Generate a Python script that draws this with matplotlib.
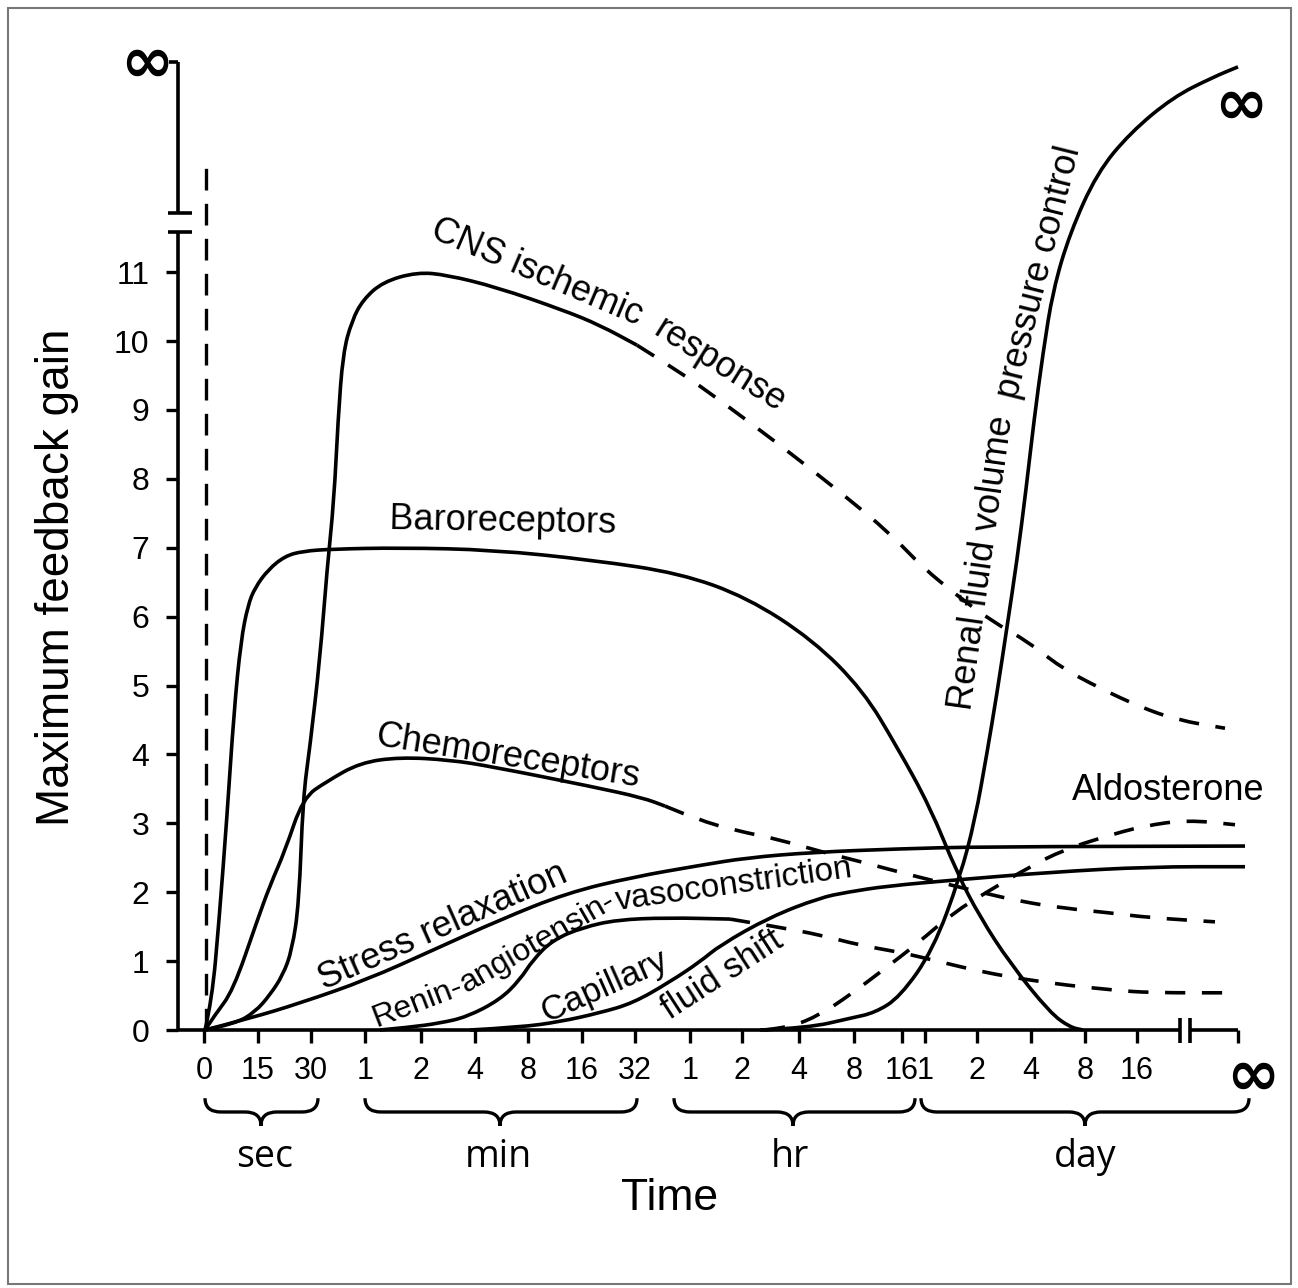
import matplotlib
matplotlib.use("Agg")
import matplotlib.pyplot as plt
from matplotlib.patches import Rectangle, PathPatch
from matplotlib.path import Path

plt.rcParams['font.family'] = ['Liberation Sans', 'DejaVu Sans']

W, H = 1298, 1288

# time axis: position of each tick (one doubling of time ~ 54 units)
tick_pos = [0, 54, 107, 161, 217, 271, 324, 378, 431, 486, 538, 595, 650,
            698, 721, 773, 827, 881, 933, 1034]
tick_lab = ['0', '15', '30', '1', '2', '4', '8', '16', '32', '1', '2', '4',
            '8', '16', '1', '2', '4', '8', '16', '']
gain_ticks = list(range(12))
INF = 14.05          # level drawn for "infinite" gain

# unit groups under the axis: (name, first tick, last tick, brace tip)
groups = [('sec', 1, 114, 57), ('min', 161, 433, 296),
          ('hr', 470, 711, 589), ('day', 717, 1045, 881)]

# curves (x on the time axis, y = maximum feedback gain)
baro_x = [1, 8, 15, 23, 30, 37, 44, 51, 64, 81, 99, 127, 196, 289, 389, 476,
          543, 609, 659, 693, 726, 753, 776, 806, 846, 866, 879]
baro_y = [0, 0.44, 1.58, 3.1, 4.63, 5.66, 6.17, 6.42, 6.68, 6.88, 6.95, 6.98,
          7.0, 6.97, 6.82, 6.63, 6.28, 5.66, 4.93, 4.11, 3.24, 2.28, 1.64,
          0.97, 0.25, 0.04, 0]

cns_x = [1, 31, 51, 66, 79, 88, 95, 99, 106, 116, 123, 130, 134, 139, 148,
         159, 179, 213, 243, 293, 359, 396, 433]
cns_y = [0, 0.09, 0.26, 0.51, 0.80, 1.16, 1.84, 3.37, 4.12, 5.40, 6.68, 7.69,
         8.85, 9.83, 10.30, 10.60, 10.86, 11.0, 10.96, 10.78, 10.45, 10.23,
         9.94]
cns_dx = [433, 476, 516, 576, 636, 686, 719, 753, 786, 826, 856, 896, 936,
          973, 1021]
cns_dy = [9.94, 9.55, 9.14, 8.49, 7.81, 7.21, 6.71, 6.31, 5.95, 5.62, 5.27,
          4.96, 4.69, 4.50, 4.38]

chemo_x = [1, 11, 29, 53, 66, 81, 99, 123, 156, 196, 246, 289, 389, 439, 461]
chemo_y = [0, 0.22, 0.57, 1.58, 2.10, 2.60, 3.37, 3.61, 3.88, 3.96, 3.92,
           3.82, 3.53, 3.37, 3.25]
chemo_dx = [461, 499, 543, 576, 619, 663, 706, 779, 819, 859, 906, 946, 1011]
chemo_dy = [3.25, 3.02, 2.86, 2.76, 2.58, 2.42, 2.25, 1.99, 1.86, 1.77, 1.70,
            1.63, 1.57]

stress_x = [1, 46, 96, 163, 229, 296, 363, 429, 496, 543, 609, 696, 776, 1041]
stress_y = [0, 0.17, 0.39, 0.73, 1.16, 1.60, 1.99, 2.22, 2.39, 2.50, 2.58,
            2.63, 2.66, 2.67]

renin_x = [176, 206, 236, 263, 296, 316, 329, 349, 379, 413, 463, 526]
renin_y = [0, 0.04, 0.10, 0.19, 0.44, 0.73, 1.02, 1.31, 1.49, 1.60, 1.63, 1.61]
renin_dx = [526, 576, 616, 656, 699, 736, 779, 823, 863, 909, 946, 1033]
renin_dy = [1.61, 1.49, 1.38, 1.23, 1.12, 0.99, 0.84, 0.73, 0.65, 0.58, 0.54,
            0.54]

cap_x = [266, 316, 356, 396, 429, 466, 496, 516, 566, 616, 643, 683, 753,
         846, 946, 1041]
cap_y = [0, 0.04, 0.12, 0.25, 0.39, 0.70, 0.99, 1.23, 1.64, 1.92, 2.00, 2.09,
         2.18, 2.29, 2.37, 2.37]

aldo_x = [561, 586, 616, 646, 679, 713, 749, 786, 826, 859, 899, 939, 983,
          1031]
aldo_y = [0, 0.04, 0.22, 0.51, 0.87, 1.25, 1.70, 2.03, 2.37, 2.61, 2.80, 2.96,
          3.05, 2.98]

renal_x = [556, 604, 646, 671, 696, 729, 756, 771, 783, 793, 803, 813, 822,
           830, 839, 849, 866, 893, 926, 969, 1009, 1034]
renal_y = [0, 0.03, 0.17, 0.25, 0.48, 1.16, 2.22, 3.05, 4.02, 4.89, 5.85,
           6.82, 7.84, 8.85, 9.83, 10.74, 11.57, 12.44, 13.02, 13.54, 13.83,
           13.98]

fig = plt.figure(figsize=(W / 100, H / 100), dpi=100)
ax = fig.add_axes([178 / W, 1 - 1030 / H, 1072 / W, 990 / H])
ax.set_xlim(-26, 1046)
ax.set_ylim(0, 14.37)
for s in ax.spines.values():
    s.set_visible(False)

LW = 2.6
DASH = (0, (5.6, 4.6))


def curve(x, y, ls='solid'):
    # smooth quadratic path through the read-off points
    pts = list(zip(x, y))
    verts, codes = [pts[0]], [Path.MOVETO]
    for i in range(1, len(pts) - 1):
        mid = ((pts[i][0] + pts[i + 1][0]) / 2, (pts[i][1] + pts[i + 1][1]) / 2)
        verts += [pts[i], mid]
        codes += [Path.CURVE3, Path.CURVE3]
    verts.append(pts[-1])
    codes.append(Path.LINETO)
    ax.add_patch(PathPatch(Path(verts, codes), fill=False, edgecolor='black',
                           lw=LW, linestyle=ls, clip_on=False,
                           capstyle='butt', joinstyle='round'))


curve(baro_x, baro_y)
curve(cns_x, cns_y)
curve(cns_dx, cns_dy, DASH)
curve(chemo_x, chemo_y)
curve(chemo_dx, chemo_dy, DASH)
curve(stress_x, stress_y)
curve(renin_x, renin_y)
curve(renin_dx, renin_dy, DASH)
curve(cap_x, cap_y)
curve(aldo_x, aldo_y, DASH)
curve(renal_x, renal_y)

# dashed vertical line at time zero
ax.plot([2, 2], [0, 12.53], color='black', lw=2.4, ls=(0, (6.5, 4)),
        clip_on=False)

# axes drawn by hand (both have a break)
ax_kw = dict(color='black', lw=2.6, clip_on=False, solid_capstyle='butt')
ax.plot([-26, -26], [0, 11.58], **ax_kw)
ax.plot([-26, -26], [11.86, INF], **ax_kw)
ax.plot([-36, -12], [11.58, 11.58], **ax_kw)
ax.plot([-36, -12], [11.86, 11.86], **ax_kw)
ax.plot([-35, -26], [INF, INF], **ax_kw)
ax.plot([-26, 976], [0, 0], **ax_kw)
ax.plot([986, 1034], [0, 0], **ax_kw)
ax.plot([976, 976], [0.17, -0.19], **ax_kw)
ax.plot([986, 986], [0.17, -0.19], **ax_kw)

ax.set_yticks(gain_ticks)
ax.set_yticklabels([str(v) for v in gain_ticks])
ax.set_xticks(tick_pos)
ax.set_xticklabels(tick_lab)
ax.tick_params(axis='y', direction='out', length=8.6, width=2.4, pad=12,
               labelsize=23)
ax.tick_params(axis='x', direction='out', length=9.4, width=2.4, pad=9,
               labelsize=22)

# braces under the time axis
for name, x0, x1, xc in groups:
    y0, y1, y2 = -0.99, -1.19, -1.39
    r = 16
    verts = [(x0, y0), (x0, y1), (x0 + r, y1), (xc - r, y1), (xc, y1), (xc, y2),
             (x1, y0), (x1, y1), (x1 - r, y1), (xc + r, y1), (xc, y1), (xc, y2)]
    codes = [Path.MOVETO, Path.CURVE3, Path.CURVE3, Path.LINETO, Path.CURVE3,
             Path.CURVE3] * 2
    ax.add_patch(PathPatch(Path(verts, codes), fill=False, lw=2.4,
                           edgecolor='black', clip_on=False))


def ftext(s, x, y, rot=0, size=26, **kw):
    fig.text(x / W, 1 - y / H, s, rotation=rot, fontsize=size, ha='center',
             va='center', rotation_mode='anchor', **kw)


for (name, x0, x1, xc), cx in zip(groups, [265, 498, 790, 1085]):
    ftext(name, cx, 1157, size=27, family=['Open Sans', 'DejaVu Sans'])

ftext('Time', 670, 1198, size=32)
ftext('Maximum feedback gain', 57, 577, rot=90, size=33)

inf_kw = dict(family=['DejaVu Sans'], fontweight='bold', size=46)
ftext('\u221e', 147, 64, **inf_kw)
ftext('\u221e', 1241, 106, **inf_kw)
ftext('\u221e', 1253, 1077, **inf_kw)

ftext('CNS ischemic', 537, 272, -23)
ftext('response', 720, 365, -32)
ftext('Baroreceptors', 503, 521, -1)
ftext('Chemoreceptors', 508, 757, -9)
ftext('Stress relaxation', 443, 927, 24)
ftext('Renin-', 418, 1003, 21, 23)
ftext('angiotensin-', 538, 942, 30, 23)
ftext('vasoconstriction', 734, 885, 8, 24)
ftext('Capillary', 604, 986, 24, 25)
ftext('fluid shift', 722, 975, 33, 25)
ftext('Renal fluid volume', 982, 563, 82)
ftext('pressure control', 1039, 272, 76)
ftext('Aldosterone', 1168, 790, 0)

# picture frame
fig.patches.append(Rectangle((8 / W, 4 / H), 1283 / W, 1276 / H,
                             transform=fig.transFigure, fill=False,
                             edgecolor='#777777', lw=1.5))

fig.savefig('out.png', dpi=100)
